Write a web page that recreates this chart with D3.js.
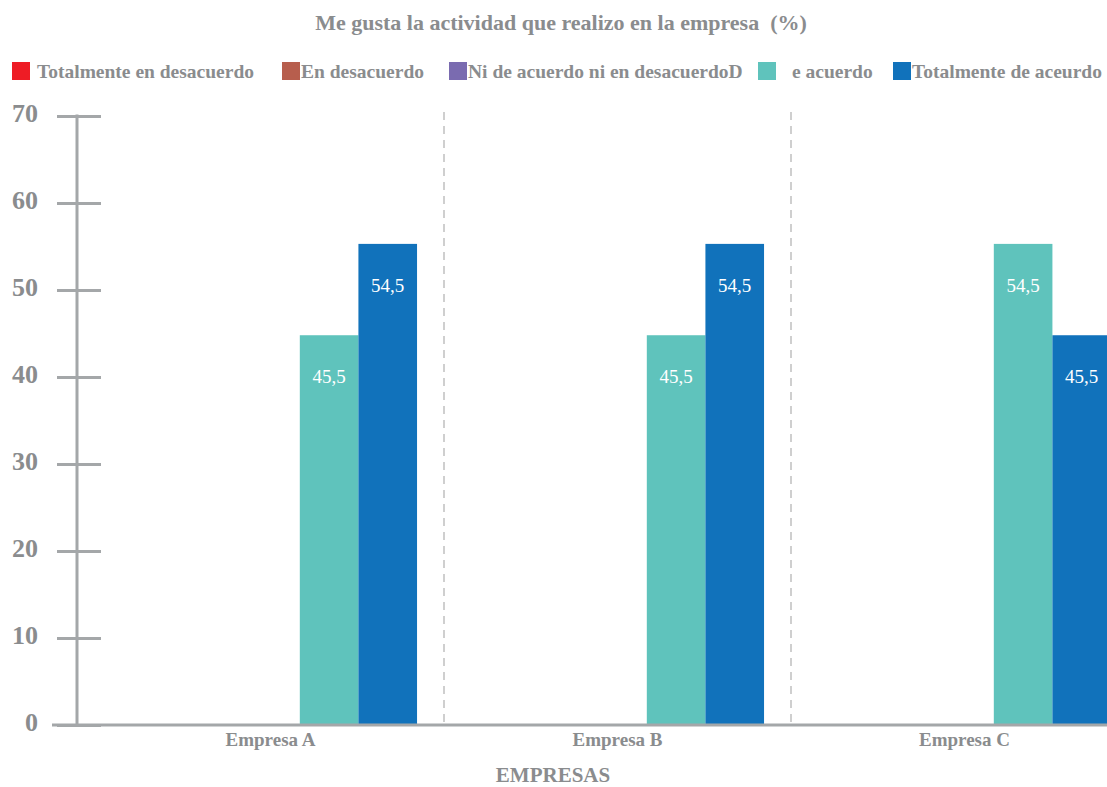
<!DOCTYPE html>
<html>
<head>
<meta charset="utf-8">
<script src="https://cdn.jsdelivr.net/npm/d3@7"></script>
<style>
  body { margin: 0; background: #fff; }
  svg { display: block; }
</style>
</head>
<body>
<div id="chart"></div>
<script>
// data
let empresas = ["Empresa A", "Empresa B", "Empresa C"];
let series = ["Totalmente en desacuerdo", "En desacuerdo", "Ni de acuerdo ni en desacuerdoD", "e acuerdo", "Totalmente de aceurdo"];
let colors = ["#ee1c25", "#b75e4d", "#7a6bb0", "#5fc3bc", "#1172bb"];
// bar heights as drawn
let valuesA = [0, 0, 0, 44.8, 55.3];
let valuesB = [0, 0, 0, 44.8, 55.3];
let valuesC = [0, 0, 0, 55.3, 44.8];
// data labels as printed
let labelsA = ["", "", "", "45,5", "54,5"];
let labelsB = ["", "", "", "45,5", "54,5"];
let labelsC = ["", "", "", "54,5", "45,5"];
let yTicks = [0, 10, 20, 30, 40, 50, 60, 70];
let legendX = [12, 282, 449, 758, 893];
let legendTextOffset = [25, 19, 19, 34, 19];

let w = 1107;
let h = 787;
let gray = "#8a8c8e";
let axisGray = "#a4a7a9";
let font = "Liberation Serif";

let allValues = [valuesA, valuesB, valuesC];
let allLabels = [labelsA, labelsB, labelsC];

let data = empresas.map((e, i) => ({
  empresa: e,
  bars: series.map((s, j) => ({ serie: s, idx: j, value: allValues[i][j], label: allLabels[i][j] }))
}));

let viz = d3.select("#chart").append("svg")
  .attr("width", w)
  .attr("height", h);

let yScale = d3.scaleLinear().domain([0, 70]).range([725, 116]);
let x0 = d3.scaleBand().domain(empresas).range([97, 1138]).paddingInner(0);
let x1 = d3.scaleBand().domain(d3.range(series.length)).range([0, x0.bandwidth()]).paddingOuter(0.46);

// title
viz.append("text")
  .attr("x", 561)
  .attr("y", 30)
  .attr("text-anchor", "middle")
  .attr("font-family", font)
  .attr("font-weight", "bold")
  .attr("font-size", "22px")
  .attr("fill", gray)
  .style("white-space", "pre")
  .text("Me gusta la actividad que realizo en la empresa  (%)");

// legend
let legend = viz.append("g").selectAll("g")
  .data(series)
  .join("g")
  .attr("transform", (d, i) => "translate(" + legendX[i] + ", 62)");

legend.append("rect")
  .attr("width", 18)
  .attr("height", 18)
  .attr("fill", (d, i) => colors[i]);

legend.append("text")
  .attr("x", (d, i) => legendTextOffset[i])
  .attr("y", 16)
  .attr("font-family", font)
  .attr("font-weight", "bold")
  .attr("font-size", "19.5px")
  .attr("fill", gray)
  .text(d => d);

// dashed separators between companies
viz.append("g").selectAll("line")
  .data(empresas.slice(1))
  .join("line")
  .attr("x1", d => x0(d))
  .attr("x2", d => x0(d))
  .attr("y1", 112)
  .attr("y2", yScale(0))
  .attr("stroke", "#cfcfcf")
  .attr("stroke-width", 2)
  .attr("stroke-dasharray", "8,6");

// bars
let groups = viz.append("g").selectAll("g")
  .data(data)
  .join("g")
  .attr("transform", d => "translate(" + x0(d.empresa) + ",0)");

groups.selectAll("rect")
  .data(d => d.bars)
  .join("rect")
  .attr("x", d => x1(d.idx))
  .attr("width", x1.bandwidth())
  .attr("y", d => yScale(d.value))
  .attr("height", d => yScale(0) - yScale(d.value))
  .attr("fill", d => colors[d.idx]);

groups.selectAll("text")
  .data(d => d.bars.filter(b => b.label != ""))
  .join("text")
  .attr("x", d => x1(d.idx) + x1.bandwidth() / 2)
  .attr("y", d => yScale(d.value) + 48)
  .attr("text-anchor", "middle")
  .attr("font-family", font)
  .attr("font-size", "19px")
  .attr("fill", "#fff")
  .text(d => d.label);

// y axis
let yAxisGroup = viz.append("g")
  .attr("transform", "translate(101, 0)")
  .call(d3.axisLeft(yScale).tickValues(yTicks).tickSize(44).tickPadding(19));
yAxisGroup.select(".domain").remove();
yAxisGroup.selectAll("line").attr("stroke", axisGray).attr("stroke-width", 3);
yAxisGroup.selectAll("text")
  .attr("font-family", font)
  .attr("font-weight", "bold")
  .attr("font-size", "26px")
  .attr("fill", gray)
  .attr("dy", "0.22em");

viz.append("line")
  .attr("x1", 77).attr("x2", 77)
  .attr("y1", yScale(70) - 1.5).attr("y2", yScale(0))
  .attr("stroke", axisGray)
  .attr("stroke-width", 3);

// x axis
viz.append("line")
  .attr("x1", 52).attr("x2", w)
  .attr("y1", yScale(0)).attr("y2", yScale(0))
  .attr("stroke", axisGray)
  .attr("stroke-width", 3);

let xAxisGroup = viz.append("g")
  .attr("transform", "translate(0," + yScale(0) + ")")
  .call(d3.axisBottom(x0).tickSize(0).tickPadding(8));
xAxisGroup.select(".domain").remove();
xAxisGroup.selectAll("text")
  .attr("font-family", font)
  .attr("font-weight", "bold")
  .attr("font-size", "19px")
  .attr("fill", gray);

viz.append("text")
  .attr("x", 553)
  .attr("y", 782)
  .attr("text-anchor", "middle")
  .attr("font-family", font)
  .attr("font-weight", "bold")
  .attr("font-size", "21px")
  .attr("fill", gray)
  .text("EMPRESAS");
</script>
</body>
</html>
